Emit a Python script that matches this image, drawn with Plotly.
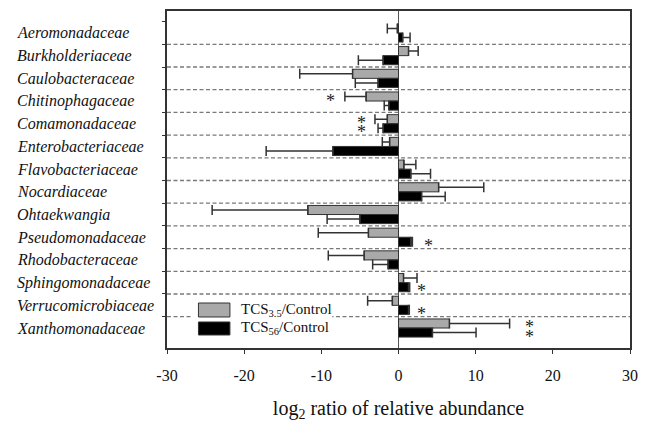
import plotly.graph_objects as go

categories = [
    "Aeromonadaceae", "Burkholderiaceae", "Caulobacteraceae", "Chitinophagaceae",
    "Comamonadaceae", "Enterobacteriaceae", "Flavobacteriaceae", "Nocardiaceae",
    "Ohtaekwangia", "Pseudomonadaceae", "Rhodobacteraceae", "Sphingomonadaceae",
    "Verrucomicrobiaceae", "Xanthomonadaceae",
]
tcs35_values = [-0.15, 1.3, -5.95, -4.2, -1.45, -1.15, 0.7, 5.2, -11.75, -3.9, -4.45, 0.65, -0.8, 6.6]
tcs35_errors = [1.3, 1.25, 6.85, 2.75, 1.6, 0.95, 1.55, 5.85, 12.4, 6.5, 4.65, 1.75, 3.2, 7.8]
tcs56_values = [0.55, -2.0, -2.65, -1.25, -2.0, -8.5, 1.6, 3.0, -5.0, 1.6, -1.35, 1.3, 1.3, 4.4]
tcs56_errors = [0.95, 3.2, 2.95, 0.6, 0.65, 8.65, 2.55, 3.05, 4.25, 0.2, 2.0, 0.15, 0.1, 5.65]
x_ticks = [-30, -20, -10, 0, 10, 20, 30]
x_tick_labels = ["-30", "-20", "-10", "0", "10", "20", "30"]

series_names = ["TCS<sub>3.5</sub>/Control", "TCS<sub>56</sub>/Control"]
series_colors = ["#a9a9a9", "#000000"]

# significance markers
sig_category = ["Chitinophagaceae", "Comamonadaceae", "Comamonadaceae", "Pseudomonadaceae",
                "Sphingomonadaceae", "Verrucomicrobiaceae", "Xanthomonadaceae", "Xanthomonadaceae"]
sig_series = [0, 0, 1, 1, 1, 1, 0, 1]
sig_x = [-8.8, -4.75, -4.75, 3.95, 3.0, 3.0, 17.0, 17.0]

SERIF = "Liberation Serif, Times New Roman, serif"


def one_sided(vals, errs):
    plus = [e if v >= 0 else 0 for v, e in zip(vals, errs)]
    minus = [e if v < 0 else 0 for v, e in zip(vals, errs)]
    return plus, minus


fig = go.Figure()
for name, vals, errs, col in zip(series_names, [tcs35_values, tcs56_values],
                                 [tcs35_errors, tcs56_errors], series_colors):
    plus, minus = one_sided(vals, errs)
    fig.add_trace(go.Bar(
        y=categories, x=vals, orientation="h", name=name, showlegend=False,
        marker=dict(color=col, line=dict(color="#333333", width=1)),
        error_x=dict(type="data", symmetric=False, array=plus, arrayminus=minus,
                     color="#333333", thickness=1.5, width=5),
    ))

n = len(categories)
shapes = []
for i in range(n - 1):
    shapes.append(dict(type="line", xref="paper", x0=0, x1=1, yref="y", y0=i + 0.5, y1=i + 0.5,
                       line=dict(color="#7a7a7a", width=1.3, dash="4px,2.5px"), layer="below"))

# legend (custom, drawn in paper coordinates)
shapes.append(dict(type="rect", xref="paper", yref="paper", x0=0.053, x1=0.357, y0=0.024, y1=0.142,
                   fillcolor="white", line=dict(width=0), layer="above"))
legend_y = [(0.092, 0.1335), (0.0386, 0.0772)]
for col, (y0, y1) in zip(series_colors, legend_y):
    shapes.append(dict(type="rect", xref="paper", yref="paper", x0=0.0679, x1=0.1359, y0=y0, y1=y1,
                       fillcolor=col, line=dict(color="#333333", width=1), layer="above"))

annotations = []
for name, (y0, y1) in zip(series_names, legend_y):
    annotations.append(dict(xref="paper", yref="paper", x=0.155, y=(y0 + y1) / 2, text=name,
                            xanchor="left", yanchor="middle", showarrow=False,
                            font=dict(family=SERIF, size=15, color="#111")))

for c in categories:
    annotations.append(dict(xref="paper", yref="y", x=-0.329, y=c, text="<i>" + c + "</i>",
                            xanchor="left", yanchor="middle", showarrow=False,
                            font=dict(family=SERIF, size=16, color="#111")))

for c, s, sx in zip(sig_category, sig_series, sig_x):
    idx = categories.index(c)
    annotations.append(dict(xref="x", yref="y", x=sx, y=idx + (-0.2 if s == 0 else 0.2), text="*",
                            showarrow=False, yshift=-4,
                            font=dict(family=SERIF, size=18, color="#222")))

fig.update_layout(
    width=646, height=424, autosize=False,
    margin=dict(l=167, r=8, t=11, b=76),
    paper_bgcolor="white", plot_bgcolor="white",
    barmode="group", bargap=0.2, bargroupgap=0,
    shapes=shapes, annotations=annotations,
    font=dict(family=SERIF, color="#111"),
    xaxis=dict(range=[-30, 30], tickvals=x_ticks, ticktext=x_tick_labels,
               ticks="outside", ticklen=4,
               tickcolor="#333", tickfont=dict(family=SERIF, size=16),
               ticklabelstandoff=8,
               showline=True, mirror=True, linecolor="#333", linewidth=1.5,
               showgrid=False, zeroline=True, zerolinecolor="#555", zerolinewidth=1.3,
               title=dict(text="log<sub>2</sub> ratio of relative abundance",
                          font=dict(family=SERIF, size=20), standoff=18)),
    yaxis=dict(type="category", categoryorder="array", categoryarray=categories,
               range=[n - 1 + 0.88, -0.967], showticklabels=False,
               ticks="outside", tickson="boundaries", ticklen=3, tickcolor="#333",
               showline=True, mirror=True, linecolor="#333", linewidth=1.5,
               showgrid=False, zeroline=False),
)

fig.write_html("out.html")
